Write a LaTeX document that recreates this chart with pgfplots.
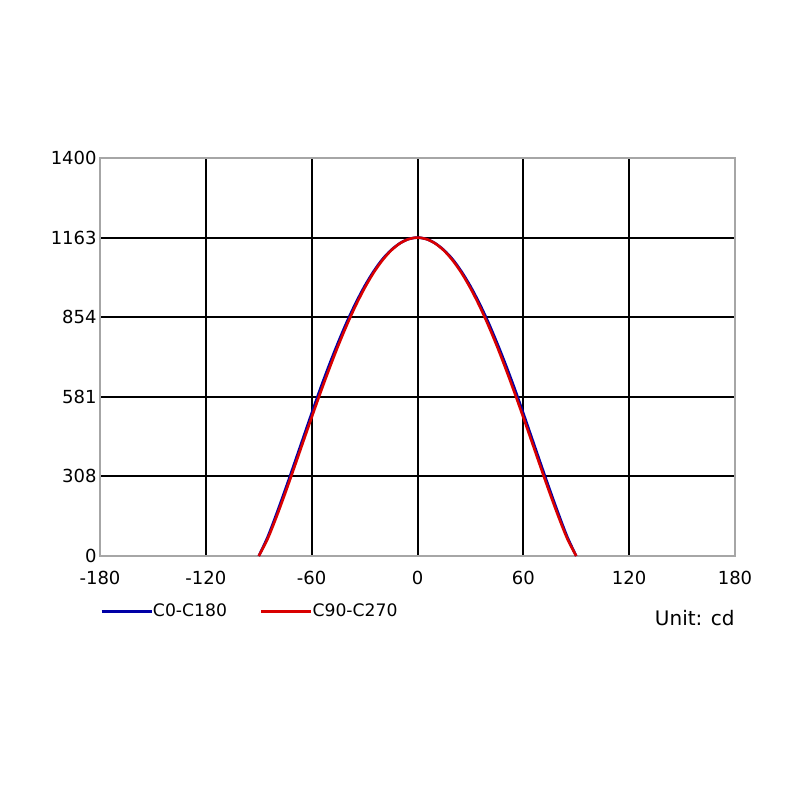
\documentclass[border=0pt]{standalone}
\usepackage{fontspec}
\setmainfont{DejaVu Sans}
\usepackage{pgfplots}
\pgfplotsset{compat=1.18}
\begin{document}
\fontsize{9}{10}\selectfont
\begin{tikzpicture}
\useasboundingbox (0,0) rectangle (400pt,400pt);
\begin{axis}[
  at={(50pt,122pt)}, anchor=south west,
  width=317.5pt, height=199pt, scale only axis,
  xmin=-180, xmax=180, ymin=0, ymax=1400,
  xtick={-180,-120,-60,0,60,120,180},
  xticklabels={-180,-120,-60,0,60,120,180},
  ytick={0,280,560,840,1120,1400},
  yticklabels={0,308,581,854,1163,1400},
  major tick length=0pt,
  grid=major,
  major grid style={black, line width=1pt},
  axis line style={gray!70, line width=0.75pt},
  xticklabel style={font=\fontsize{9}{10}\selectfont, yshift=-4.5pt},
  yticklabel style={font=\fontsize{9}{10}\selectfont, inner sep=1.5pt},
  legend style={draw=none, fill=none, at={(0,-0.14)}, anchor=west,
    font=\fontsize{8.6}{10}\selectfont, inner sep=0pt,
    nodes={inner sep=0pt}},
  legend columns=2,
  legend cell align=left,
  /tikz/every even column/.append style={column sep=16.5pt},
  legend image code/.code={\draw[#1] (0pt,0pt) -- (25pt,0pt);},
  clip=false,
]
\addplot[blue!65!black, line width=1.3pt, smooth] coordinates {
(-90,0) (-85,66) (-80,147) (-75,233) (-70,322) (-65,412) (-60,502)
(-55,590) (-50,673) (-45,751) (-40,824) (-35,890) (-30,949)
(-25,1000) (-20,1043) (-15,1076) (-10,1100) (-5,1115) (0,1120)
(5,1115) (10,1100) (15,1076) (20,1043) (25,1000) (30,949)
(35,890) (40,824) (45,751) (50,673) (55,590) (60,502)
(65,412) (70,322) (75,233) (80,147) (85,66) (90,0)
};
\addlegendentry{C0-C180}
\addplot[red!85!black, line width=1.3pt, smooth] coordinates {
(-90,0) (-85,59.9) (-80,137.0) (-75,221.2) (-70,309.1) (-65,398.5) (-60,487.5)
(-55,574.8) (-50,659.0) (-45,739.0) (-40,813.4) (-35,881.6) (-30,942.4)
(-25,995.3) (-20,1039.4) (-15,1074.4) (-10,1099.6) (-5,1114.9) (0,1120)
(5,1114.9) (10,1099.6) (15,1074.4) (20,1039.4) (25,995.3) (30,942.4)
(35,881.6) (40,813.4) (45,739.0) (50,659.0) (55,574.8) (60,487.5)
(65,398.5) (70,309.1) (75,221.2) (80,137.0) (85,59.9) (90,0)
};
\addlegendentry{C90-C270}
\node[anchor=east, inner sep=0pt, font=\fontsize{10}{11}\selectfont] at (rel axis cs:1,-0.155) {Unit: cd};
\end{axis}
\end{tikzpicture}
\end{document}
